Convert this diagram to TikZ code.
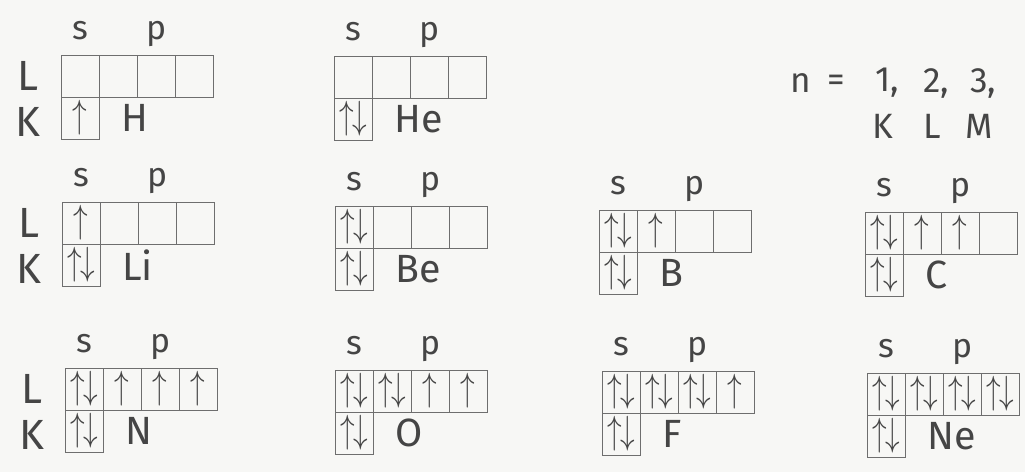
\documentclass[tikz,border=0pt]{standalone}
\usepackage{fontspec}
\usepackage{graphicx}
\setmainfont{Fira Sans}
\usetikzlibrary{positioning}
\definecolor{pencil}{HTML}{6E6E6E}
\definecolor{lead}{HTML}{454545}
\definecolor{paper}{HTML}{F7F7F5}
\newcommand{\spinup}{\scalebox{1}[1.35]{$\uparrow$}}
\newcommand{\spinpair}{\scalebox{1}[1.35]{$\uparrow\mkern-1mu\downarrow$}}

\begin{document}
\begin{tikzpicture}[
    x=0.025cm, y=-0.025cm,
    every node/.style={text=lead},
    cell/.style={rectangle, draw=pencil, line width=0.6pt, minimum width=0.95cm, minimum height=1.05cm, inner sep=0pt, outer sep=0pt, font=\fontsize{20}{24}\selectfont},
    orb/.style={inner sep=0pt, text height=0.45em, text depth=0.2em, font=\fontsize{24}{28}\selectfont},
    elem/.style={inner sep=0pt, font=\fontsize{28}{32}\selectfont},
    shell/.style={inner sep=0pt, font=\fontsize{30}{34}\selectfont},
    num/.style={inner sep=0pt, font=\fontsize{25}{30}\selectfont}
]
    \fill[paper] (0,0) rectangle (1025,472);
    \useasboundingbox (0,0) rectangle (1025,472);

    % one box set per element: name/x/y/K s/L s/p1/p2/p3
    \foreach \el/\x/\y/\ks/\ls/\pa/\pb/\pc in {
        H/61/55/\spinup/{}/{}/{}/{},
        He/334/56/\spinpair/{}/{}/{}/{},
        Li/62/202/\spinpair/\spinup/{}/{}/{},
        Be/335/206/\spinpair/\spinpair/{}/{}/{},
        B/599/210/\spinpair/\spinpair/\spinup/{}/{},
        C/865/212/\spinpair/\spinpair/\spinup/\spinup/{},
        N/65/368/\spinpair/\spinpair/\spinup/\spinup/\spinup,
        O/335/370/\spinpair/\spinpair/\spinpair/\spinup/\spinup,
        F/602/371/\spinpair/\spinpair/\spinpair/\spinpair/\spinup,
        Ne/867/373/\spinpair/\spinpair/\spinpair/\spinpair/\spinpair}{
        \node[cell, anchor=north west] (\el-Ls) at (\x,\y) {\ls};
        \node[cell, below=0pt of \el-Ls] (\el-Ks) {\ks};
        \node[cell, right=0pt of \el-Ls] (\el-p1) {\pa};
        \node[cell, right=0pt of \el-p1] (\el-p2) {\pb};
        \node[cell, right=0pt of \el-p2] (\el-p3) {\pc};
        \node[orb, above=0.3cm of \el-Ls] (\el-s) {s};
        \node[orb, above=0.3cm of \el-p2] (\el-p) {p};
        \node[elem, right=0.55cm of \el-Ks] (\el-name) {\el};
    }

    % shell letters on the left column
    \foreach \el in {H,Li,N}{
        \node[shell, left=0.55cm of \el-Ls] (\el-shellL) {L};
        \node[shell, left=0.5cm of \el-Ks, yshift=-0.1cm] (\el-shellK) {K};
    }

    % principal quantum number
    \node[num] (n) at (801,83) {n};
    \node[num, right=0.4cm of n] (eq) {=};
    \foreach \d/\s/\x in {1/K/883, 2/L/932, 3/M/979}{
        \node[num] (n\d) at (\x,83) {\d\rlap{,}};
        \node[num, below=0.4cm of n\d] (sh\d) {\s};
    }
\end{tikzpicture}
\end{document}
